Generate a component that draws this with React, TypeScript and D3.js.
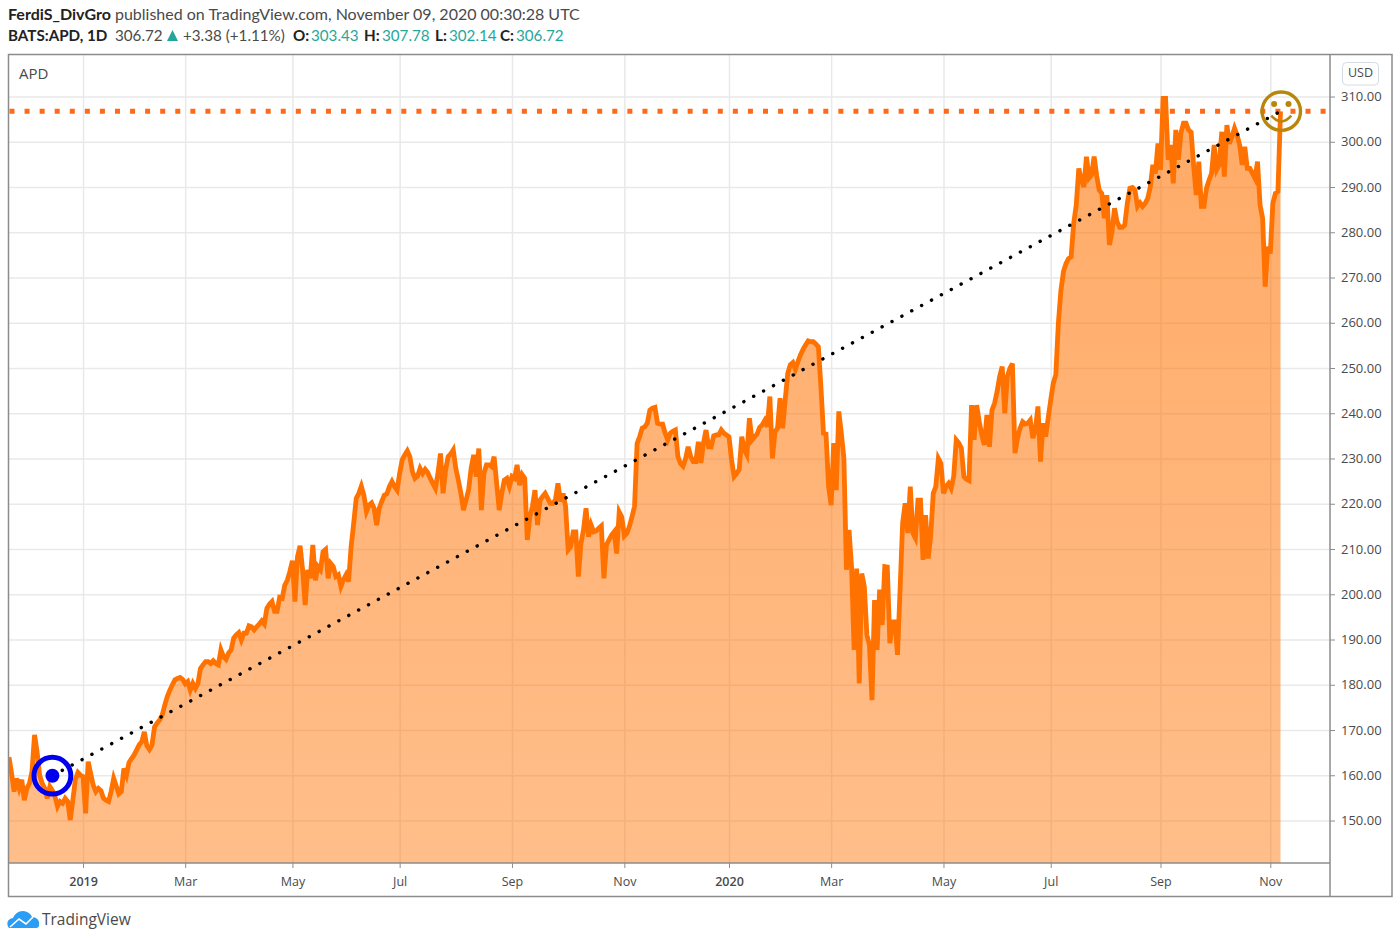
import { useEffect, useRef } from 'react';
import * as d3 from 'd3';

// daily closes, one per trading session
const closes = [
  164.0, 160.4, 156.4, 159.3, 157.1, 159, 154.5, 157.1, 158.2, 160.8,
  168.9, 165.2, 160.0, 158.2, 157.1, 154.9, 157.5, 156.6, 155.3, 153.1,
  154.2, 153.8, 154.9, 154.2, 150.1, 154.5, 159.1, 160.6, 160.0, 159.7,
  151.6, 163.0, 160.4, 157.8, 156.4, 157.1, 156.6, 154.9, 154.5, 154.2,
  156.4, 159.3, 157.6, 155.9, 156.4, 161.5, 160.0, 162.8, 163.7, 164.5,
  165.6, 166.7, 167.4, 169.6, 166.5, 165.7, 166.7, 170.7, 171.5, 172.2,
  173.3, 175.5, 177.4, 178.8, 180, 181.1, 181.4, 181.6, 181.2, 180.2,
  180.7, 178.8, 180.3, 179.2, 180.3, 183.6, 184.4, 185.1, 185.1, 184.7,
  185.3, 184.7, 184.4, 187.7, 186.2, 185.6, 187, 187.7, 190.3, 191,
  191.5, 189.9, 191.4, 191.4, 193, 192.8, 192.1, 192.8, 193.4, 194.1,
  193.4, 196.9, 197.8, 198.4, 196.2, 196.2, 199.3, 199.1, 202, 203.1,
  205, 207.4, 198.4, 208.3, 210.7, 205.4, 197.6, 205.4, 203.5, 210.9,
  203.1, 206.1, 205.4, 209.4, 209.9, 203.5, 206.8, 206.1, 203.9, 204.3,
  201.7, 203.2, 204.3, 202.8, 210.5, 215.7, 221.2, 222.3, 223.9, 221.9,
  218.3, 219.7, 220.2, 219, 215.3, 219, 220.5, 221.9, 222.2, 223.8,
  224.9, 223.8, 223, 226.7, 229.7, 230.8, 231.7, 230.4, 227.1, 225.6,
  226.1, 227.8, 226.7, 227.6, 226.9, 225.6, 224.5, 223.4, 226.7, 231.1,
  222.3, 227.5, 230.4, 231, 231.9, 227.8, 225.2, 222.3, 218.6, 220.8,
  223, 227.8, 230.8, 226, 232.2, 218.6, 226.7, 228.6, 228.6, 228.2,
  230.4, 224.5, 218.6, 222.3, 225.2, 225.6, 223.8, 226, 225.6, 228.6,
  224.1, 226.4, 225.6, 212, 217, 219.4, 223, 215.3, 220.8, 221.6,
  222.3, 221.2, 220.1, 220.1, 220.8, 224.5, 220.5, 222.3, 219.4, 209.8,
  210.5, 213.8, 213.8, 203.9, 211.2, 214.2, 219, 212.7, 215.3, 213.8,
  214, 214.6, 215.1, 203.5, 210.9, 212, 213.1, 213.8, 209, 218.2,
  217.1, 212.9, 213.5, 215, 217.1, 219.4, 233.3, 234.8, 236.7, 237,
  237.8, 240.7, 241.1, 241.3, 237.8, 237.6, 237.6, 235.6, 234.1, 235.6,
  236, 236.3, 230.4, 228.9, 228.3, 230, 232.6, 230.4, 229.3, 229.3,
  233.7, 229, 233.4, 236.3, 232.6, 232.6, 235, 235.2, 235.2, 236.3,
  235.6, 235.2, 234.8, 229.7, 226, 226.7, 227.6, 234.8, 231.9, 230.8,
  238.9, 234.1, 234.8, 235.4, 236.9, 237.4, 238.4, 237, 243.7, 230,
  235.9, 236.7, 243.3, 236.7, 242.9, 248.8, 250.7, 251.2, 249.7, 251.4,
  252.9, 254.1, 255.1, 256, 255.8, 255.8, 255.3, 254.7, 245.9, 235.6,
  235.4, 223.8, 219.7, 233.4, 223, 240.4, 235.6, 230, 205.4, 214.2,
  206.1, 187.7, 205.7, 180.3, 204.6, 201.7, 191, 188.8, 176.6, 198.7,
  187.7, 201, 193.2, 206.1, 206, 189.2, 193.9, 193.9, 186.6, 201,
  215.7, 220.1, 213.5, 223.8, 213.5, 212.4, 220.8, 220.8, 207.6, 217.5,
  207.9, 213, 222.3, 223.8, 230, 228.9, 222.3, 223.8, 224.5, 223.4,
  226, 234.1, 233.4, 232.3, 226, 225.4, 225.1, 241.8, 234.1, 241.8,
  238.2, 235.2, 233, 239.6, 232.6, 240.7, 242.2, 244.8, 248.1, 250.3,
  240, 248.1, 249.9, 251, 231.2, 234.5, 236.7, 238.1, 237.6, 237.8,
  238.5, 234.5, 236.3, 241.5, 229.3, 237.8, 234.8, 238.9, 242.9, 246.6,
  248.5, 259.9, 267.2, 271.3, 273.1, 274.2, 274.6, 282, 286, 294.1,
  291.6, 290, 296.7, 292, 292.7, 296.7, 292.5, 289.3, 288.6, 283.1,
  288.2, 277.2, 280.1, 285.3, 282.3, 281.1, 281.1, 281.6, 286.4, 289.7,
  289.9, 289.3, 285.7, 286.5, 285.7, 286.4, 287.5, 290, 294.9, 293,
  299.6, 293.8, 309.6, 309.6, 296, 299.3, 290.8, 302.6, 296, 301.9,
  304.1, 304.1, 302.6, 302.1, 294.5, 288.2, 295.6, 285.7, 285.7, 289.7,
  291.5, 293, 299.3, 293.8, 294.9, 302.2, 292.3, 303.7, 299.6, 301.1,
  303, 301.5, 299.3, 294.9, 298.9, 294.1, 294.1, 293, 291.9, 295.6,
  286, 283.1, 268, 276.8, 275.3, 286.4, 288.6, 289, 306.72,
];

const tickSessions = [29, 69, 111, 153, 197, 241, 282, 322, 366, 408, 451, 494];
const tickLabels = ['2019', 'Mar', 'May', 'Jul', 'Sep', 'Nov', '2020', 'Mar', 'May', 'Jul', 'Sep', 'Nov'];
const yearLabels = ['2019', '2020'];
const priceTicks = d3.range(150, 311, 10);

// dotted trend line: from the blue target to the smiley
const trendSessions = [17, 498];
const trendPrices = [159.9, 306.72];

const FONT = "'Open Sans', sans-serif";
const HEADER_FONT = "Lato, sans-serif";
const TEXT = '#4a4a4a';
const TEAL = '#26a69a';
const ORANGE = '#ff7200';
const GRID = '#e9e9e9';
const FRAME = '#8c8c8c';

const left = 9;
const plotRight = 1330;
const plotTop = 55;
const plotBottom = 863;

export default function App() {
  const svgRef = useRef<SVGSVGElement>(null);

  useEffect(() => {
    if (!svgRef.current) return;
    const svg = d3.select(svgRef.current);
    svg.selectAll('*').remove();

    const x = d3.scaleLinear().domain([0, 498]).range([left, 1280.5]);
    const y = d3.scaleLinear().domain([150, 310]).range([820.5, 96.5]);

    const defs = svg.append('defs');
    defs
      .append('clipPath')
      .attr('id', 'plot-clip')
      .append('rect')
      .attr('x', left)
      .attr('y', plotTop)
      .attr('width', plotRight - left)
      .attr('height', plotBottom - plotTop);

    const fillGradient = defs
      .append('linearGradient')
      .attr('id', 'area-fill')
      .attr('gradientUnits', 'userSpaceOnUse')
      .attr('x1', 0)
      .attr('x2', 0)
      .attr('y1', y(310))
      .attr('y2', plotBottom);
    fillGradient.append('stop').attr('offset', '0%').attr('stop-color', ORANGE).attr('stop-opacity', 0.6);
    fillGradient.append('stop').attr('offset', '100%').attr('stop-color', ORANGE).attr('stop-opacity', 0.46);

    // grid
    svg
      .append('g')
      .attr('transform', `translate(${plotRight},0)`)
      .call(
        d3
          .axisRight(y)
          .tickValues(priceTicks)
          .tickSize(-(plotRight - left))
          .tickFormat(() => '')
      )
      .call((group) => {
        group.select('.domain').remove();
        group.selectAll('.tick line').attr('stroke', GRID).attr('stroke-width', 1.5);
      });

    svg
      .append('g')
      .attr('transform', `translate(0,${plotBottom})`)
      .call(
        d3
          .axisBottom(x)
          .tickValues(tickSessions)
          .tickSize(-(plotBottom - plotTop))
          .tickFormat(() => '')
      )
      .call((group) => {
        group.select('.domain').remove();
        group.selectAll('.tick line').attr('stroke', GRID).attr('stroke-width', 1.5);
      });

    const plot = svg.append('g').attr('clip-path', 'url(#plot-clip)');

    const area = d3
      .area<number>()
      .x((_, i) => x(i))
      .y0(plotBottom)
      .y1((d) => y(d));

    const line = d3
      .line<number>()
      .x((_, i) => x(i))
      .y((d) => y(d));

    plot.append('path').datum(closes).attr('fill', 'url(#area-fill)').attr('d', area);

    plot
      .append('path')
      .datum(closes)
      .attr('fill', 'none')
      .attr('stroke', ORANGE)
      .attr('stroke-width', 4.8)
      .attr('d', line);

    // last price level
    plot
      .append('line')
      .attr('x1', 9.5)
      .attr('x2', plotRight)
      .attr('y1', y(306.72))
      .attr('y2', y(306.72))
      .attr('stroke', '#ff6a1a')
      .attr('stroke-width', 5)
      .attr('stroke-dasharray', '5 10.07');

    // trend line
    plot
      .append('line')
      .attr('x1', x(trendSessions[0]))
      .attr('x2', x(trendSessions[1]))
      .attr('y1', y(trendPrices[0]))
      .attr('y2', y(trendPrices[1]))
      .attr('stroke', '#000')
      .attr('stroke-width', 3.4)
      .attr('stroke-linecap', 'round')
      .attr('stroke-dasharray', '0.1 11.13');

    // blue target
    const target = svg
      .append('g')
      .attr('transform', `translate(${x(trendSessions[0])},${y(trendPrices[0])})`);
    target.append('circle').attr('r', 18.4).attr('fill', 'none').attr('stroke', '#0000ee').attr('stroke-width', 5);
    target.append('circle').attr('r', 7).attr('fill', '#0000ee');

    // smiley
    const smiley = svg.append('g').attr('transform', 'translate(1281.3,111.2)');
    const gold = '#b8860b';
    smiley.append('circle').attr('r', 19.2).attr('fill', 'none').attr('stroke', gold).attr('stroke-width', 3.4);
    smiley.append('circle').attr('cx', -7.2).attr('cy', -7.2).attr('r', 3).attr('fill', gold);
    smiley.append('circle').attr('cx', 7.2).attr('cy', -7.2).attr('r', 3).attr('fill', gold);
    smiley
      .append('path')
      .attr('d', 'M-10,4.5 Q0,16 10,4.5')
      .attr('fill', 'none')
      .attr('stroke', gold)
      .attr('stroke-width', 2.6);

    // axes
    svg
      .append('g')
      .attr('transform', `translate(${plotRight},0)`)
      .call(
        d3
          .axisRight(y)
          .tickValues(priceTicks)
          .tickSize(5)
          .tickPadding(6)
          .tickFormat((d) => (d as number).toFixed(2))
      )
      .call((group) => {
        group.select('.domain').remove();
        group.selectAll('.tick line').attr('stroke', FRAME);
        group
          .selectAll('.tick text')
          .attr('fill', TEXT)
          .attr('font-size', 13)
          .attr('font-family', FONT);
      });

    svg
      .append('g')
      .attr('transform', `translate(0,${plotBottom})`)
      .call(
        d3
          .axisBottom(x)
          .tickValues(tickSessions)
          .tickSize(5)
          .tickPadding(9)
          .tickFormat((_, i) => tickLabels[i])
      )
      .call((group) => {
        group.select('.domain').remove();
        group.selectAll('.tick line').attr('stroke', FRAME);
        group
          .selectAll<SVGTextElement, number>('.tick text')
          .attr('fill', TEXT)
          .attr('font-size', 12.5)
          .attr('font-family', FONT)
          .attr('font-weight', function () {
            return yearLabels.includes(this.textContent ?? '') ? 600 : 400;
          });
      });
  }, []);

  return (
    <div style={{ position: 'absolute', left: 0, top: 0, width: 1400, height: 942, background: '#fff' }}>
      <svg
        ref={svgRef}
        width={1400}
        height={942}
        viewBox="0 0 1400 942"
        style={{ position: 'absolute', left: 0, top: 0 }}
      />
      <svg
        width={1400}
        height={942}
        viewBox="0 0 1400 942"
        style={{ position: 'absolute', left: 0, top: 0 }}
        fontFamily={FONT}
      >
        <text x={8} y={20} fontSize={16} fill={TEXT} fontFamily={HEADER_FONT}>
          <tspan fontWeight={700} fill="#222">FerdiS_DivGro</tspan>
          <tspan dx={4}>published on TradingView.com, November 09, 2020 00:30:28 UTC</tspan>
        </text>
        <text x={8} y={41} fontSize={15.2} fill={TEXT} fontFamily={HEADER_FONT}>
          <tspan fontWeight={700} fill="#222">BATS:APD, 1D</tspan>
          <tspan x={115}>306.72</tspan>
          <tspan x={183}>+3.38 (+1.11%)</tspan>
          <tspan x={293} fontWeight={700} fill="#222">O:</tspan>
          <tspan x={311} fill={TEAL}>303.43</tspan>
          <tspan x={364} fontWeight={700} fill="#222">H:</tspan>
          <tspan x={382} fill={TEAL}>307.78</tspan>
          <tspan x={435} fontWeight={700} fill="#222">L:</tspan>
          <tspan x={449} fill={TEAL}>302.14</tspan>
          <tspan x={500} fontWeight={700} fill="#222">C:</tspan>
          <tspan x={516} fill={TEAL}>306.72</tspan>
        </text>
        <path d="M167,41 L178,41 L172.5,30 Z" fill={TEAL} />

        <text x={19} y={79} fontSize={15} fill={TEXT}>APD</text>

        <rect x={8.5} y={54.5} width={1383.5} height={842} fill="none" stroke={FRAME} strokeWidth={1.5} />
        <line x1={plotRight} x2={plotRight} y1={54} y2={897} stroke={FRAME} strokeWidth={1.5} />
        <line x1={8} x2={plotRight} y1={plotBottom} y2={plotBottom} stroke={FRAME} strokeWidth={1.5} />

        <rect x={1342.5} y={62.5} width={36} height={22.5} rx={4} fill="#fff" stroke="#d6dae3" strokeWidth={1} />
        <text x={1360.5} y={77} fontSize={12.5} fill={TEXT} textAnchor="middle">USD</text>

        <path
          d="M9,928 C6,924 7,919 13,918 C15,913 21,909 27,912 C30,913 31,915 32,917 C37,917 40,921 39,925 C39,927 38,928 36,928 Z"
          fill="#2a9df4"
        />
        <path d="M10,927 L19,919 L26,924 L33,917" fill="none" stroke="#fff" strokeWidth={1.6} />
        <text x={42} y={925} fontSize={15.5} fill={TEXT}>TradingView</text>
      </svg>
    </div>
  );
}
